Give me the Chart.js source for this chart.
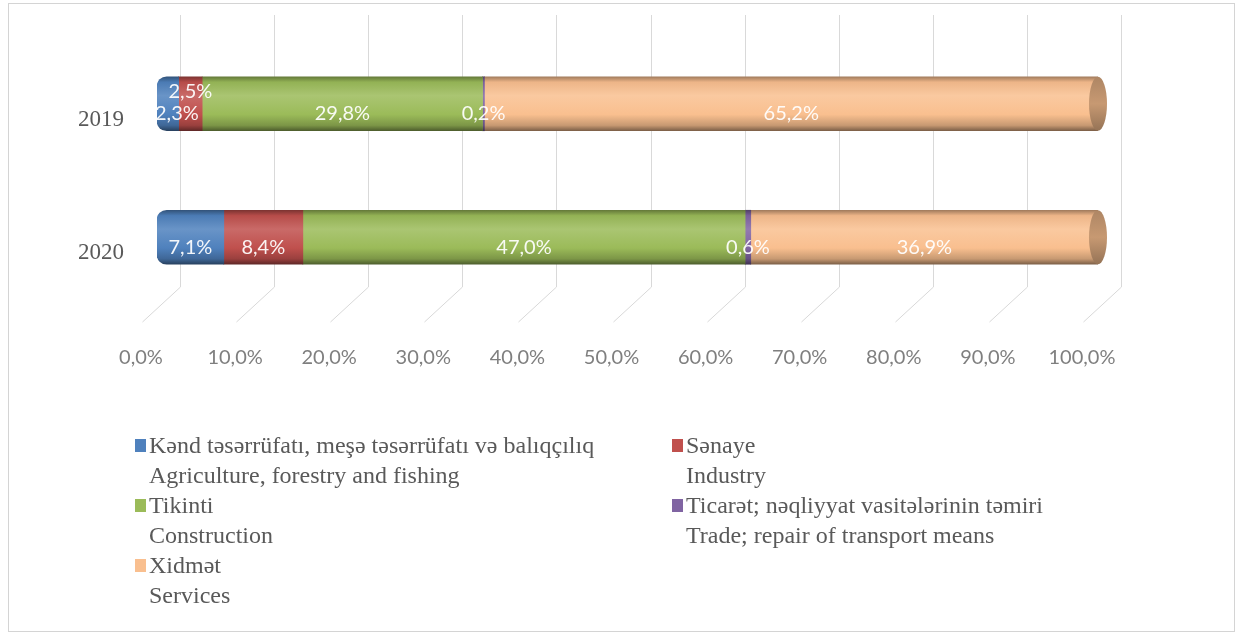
<!DOCTYPE html>
<html>
<head>
<meta charset="utf-8">
<script src="https://cdn.jsdelivr.net/npm/chart.js@4.4.1/dist/chart.umd.min.js"></script>
<style>
html, body { margin: 0; padding: 0; background: #fff; }
</style>
</head>
<body>
<canvas id="myChart" width="1246" height="634"></canvas>
<script>
const years = ['2019', '2020'];
const agriculture = [2.3, 7.1];
const industry = [2.5, 8.4];
const construction = [29.8, 47.0];
const trade = [0.2, 0.6];
const services = [65.2, 36.9];

const namesAz = ['Kənd təsərrüfatı, meşə təsərrüfatı və balıqçılıq', 'Sənaye', 'Tikinti', 'Ticarət; nəqliyyat vasitələrinin təmiri', 'Xidmət'];
const namesEn = ['Agriculture, forestry and fishing', 'Industry', 'Construction', 'Trade; repair of transport means', 'Services'];
const colors = ['#4f81bd', '#c0504d', '#9bbb59', '#8064a2', '#f9bf8f'];

const BAR = 54;

function shade(hex, amt){
    const n = parseInt(hex.slice(1), 16);
    let r = n >> 16, g = (n >> 8) & 255, b = n & 255;
    const t = amt < 0 ? 0 : 255, p = Math.abs(amt);
    r = Math.round(r + (t - r) * p);
    g = Math.round(g + (t - g) * p);
    b = Math.round(b + (t - b) * p);
    return 'rgb(' + r + ',' + g + ',' + b + ')';
}

// vertical shading so the bars look like cylinders
function cylinder(base){
    return function(c){
        const chart = c.chart;
        if (!chart.chartArea || !chart.scales.y) return base;
        const yc = chart.scales.y.getPixelForValue(c.dataIndex);
        const g = chart.ctx.createLinearGradient(0, yc - BAR / 2, 0, yc + BAR / 2);
        g.addColorStop(0, shade(base, -0.35));
        g.addColorStop(0.1, shade(base, -0.05));
        g.addColorStop(0.35, shade(base, 0.15));
        g.addColorStop(0.7, base);
        g.addColorStop(0.9, shade(base, -0.2));
        g.addColorStop(1, shade(base, -0.5));
        return g;
    };
}

const frame = {
    id: 'frame',
    beforeDraw(chart){
        const ctx = chart.ctx;
        ctx.save();
        ctx.fillStyle = '#fff';
        ctx.fillRect(0, 0, chart.width, chart.height);
        ctx.strokeStyle = '#d4d4d4';
        ctx.lineWidth = 1;
        ctx.strokeRect(8.5, 3.5, 1226, 628);
        ctx.restore();
    }
};

// gridlines on the back wall, with slanted floor edges
const grid3d = {
    id: 'grid3d',
    beforeDatasetsDraw(chart){
        const {ctx, chartArea, scales: {x}} = chart;
        ctx.save();
        ctx.strokeStyle = '#d9d9d9';
        ctx.lineWidth = 1;
        x.ticks.forEach(t => {
            const px = Math.round(x.getPixelForValue(t.value));
            ctx.beginPath();
            ctx.moveTo(px + 23.5, 15);
            ctx.lineTo(px + 23.5, chartArea.bottom - 17);
            ctx.lineTo(px - 14.5, chartArea.bottom + 18);
            ctx.stroke();
        });
        ctx.restore();
    }
};

const caps = {
    id: 'caps',
    afterDatasetsDraw(chart){
        const ctx = chart.ctx;
        const last = chart.data.datasets.length - 1;
        const base = colors[last];
        chart.getDatasetMeta(last).data.forEach(el => {
            const g = ctx.createLinearGradient(0, el.y - BAR / 2, 0, el.y + BAR / 2);
            g.addColorStop(0, shade(base, -0.3));
            g.addColorStop(0.5, shade(base, -0.2));
            g.addColorStop(1, shade(base, -0.4));
            ctx.save();
            ctx.fillStyle = g;
            ctx.beginPath();
            ctx.ellipse(el.x, el.y, 9, BAR / 2, 0, 0, Math.PI * 2);
            ctx.fill();
            ctx.restore();
        });
    }
};

const barLabels = {
    id: 'barLabels',
    afterDatasetsDraw(chart){
        const ctx = chart.ctx;
        const left = chart.chartArea.left;
        ctx.save();
        ctx.font = '20px Lato';
        ctx.fillStyle = 'rgba(255,255,255,0.93)';
        ctx.textAlign = 'center';
        ctx.textBaseline = 'middle';
        years.forEach((yr, j) => {
            let lastRight = -Infinity;
            chart.data.datasets.forEach((ds, i) => {
                const el = chart.getDatasetMeta(i).data[j];
                const txt = ds.data[j].toFixed(1).replace('.', ',') + '%';
                const w = ctx.measureText(txt).width;
                let cx = (el.x + el.base) / 2;
                if (cx - w / 2 < left) cx = left + w / 2 - 2;
                let cy = el.y + 10;
                if (cx - w / 2 < lastRight) cy -= 22;
                ctx.fillText(txt, cx, cy);
                lastRight = cx + w / 2;
            });
        });
        ctx.restore();
    }
};

const legend2 = {
    id: 'legend2',
    afterDraw(chart){
        const ctx = chart.ctx;
        ctx.save();
        ctx.font = '24px "Liberation Serif"';
        ctx.textBaseline = 'middle';
        namesAz.forEach((name, i) => {
            const col = i % 2, row = Math.floor(i / 2);
            const x = 135 + col * 537;
            const y = 447 + row * 60;
            ctx.fillStyle = colors[i];
            ctx.fillRect(x, y - 8, 11, 13);
            ctx.fillStyle = '#595959';
            ctx.fillText(name, x + 14, y);
            ctx.fillText(namesEn[i], x + 14, y + 30);
        });
        ctx.restore();
    }
};

const seriesData = [agriculture, industry, construction, trade, services];
const datasets = seriesData.map((d, i) => ({
    label: namesAz[i],
    data: d,
    backgroundColor: cylinder(colors[i]),
    borderWidth: 0,
    borderSkipped: i === 0 ? false : 'start',
    borderRadius: i === 0 ? {topLeft: 10, bottomLeft: 10, topRight: 0, bottomRight: 0} : 0,
    barThickness: BAR
}));

Chart.defaults.font.family = 'Lato';

const ctx = document.getElementById('myChart').getContext('2d');
const myChart = new Chart(ctx, {
    type: 'bar',
    data: {
        labels: years,
        datasets: datasets
    },
    options: {
        indexAxis: 'y',
        responsive: false,
        animation: false,
        layout: {
            padding: {left: 78, right: 148, top: 37, bottom: 250}
        },
        plugins: {
            legend: {display: false},
            tooltip: {enabled: false}
        },
        scales: {
            x: {
                stacked: true,
                min: 0,
                max: 100,
                grid: {display: false, drawTicks: false},
                border: {display: false},
                afterFit: s => { s.height = 80; },
                ticks: {
                    stepSize: 10,
                    padding: 42,
                    labelOffset: -16,
                    color: '#7f7f7f',
                    font: {size: 20, family: 'Lato'},
                    callback: v => v.toFixed(1).replace('.', ',') + '%'
                }
            },
            y: {
                stacked: true,
                grid: {display: false, drawTicks: false},
                border: {display: false},
                afterFit: s => { s.width = 79; },
                ticks: {
                    padding: 0,
                    crossAlign: 'far',
                    labelOffset: 16,
                    color: '#595959',
                    font: {size: 23, family: 'Liberation Serif'}
                }
            }
        }
    },
    plugins: [frame, grid3d, caps, barLabels, legend2]
});
</script>
</body>
</html>
